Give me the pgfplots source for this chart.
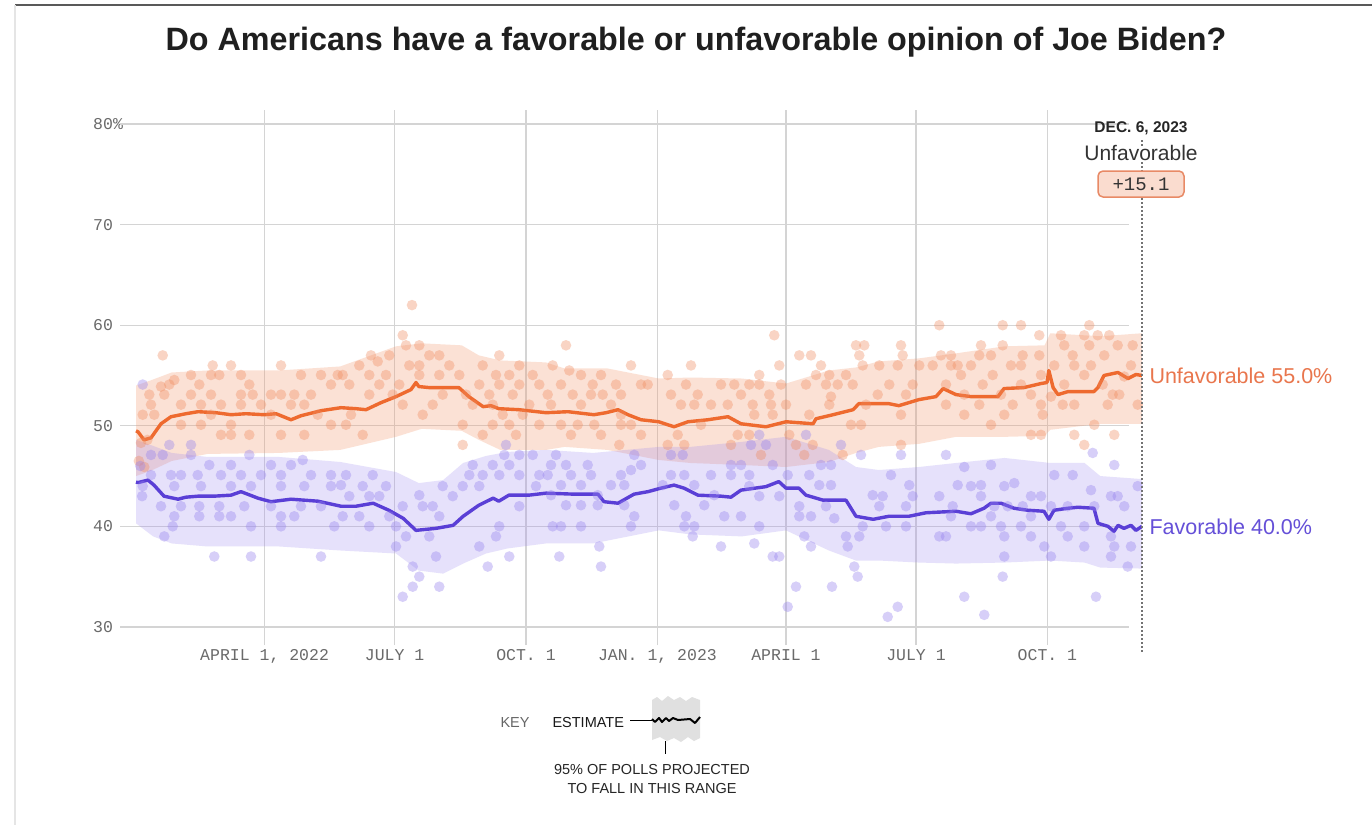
\documentclass[border=0pt]{standalone}
\usepackage{pgfplots}
\pgfplotsset{compat=1.18}
\usepackage{fontspec}
\setmainfont{Liberation Sans}
\newfontfamily\monofont{Liberation Mono}
\definecolor{unfav}{HTML}{EE6A2F}
\definecolor{fav}{HTML}{5A3FD6}
\definecolor{unfavtxt}{HTML}{E9764D}
\definecolor{favtxt}{HTML}{6550D8}
\definecolor{unfavband}{HTML}{F4966A}
\definecolor{favband}{HTML}{9D88F0}
\definecolor{unfavdot}{HTML}{F08A5D}
\definecolor{favdot}{HTML}{9683EE}
\definecolor{gridc}{HTML}{D4D4D4}
\definecolor{tickc}{HTML}{6A6A6A}
\definecolor{boxfill}{HTML}{FADCCF}
\definecolor{boxdraw}{HTML}{E88A66}

\begin{document}
\begin{tikzpicture}[x=1pt,y=1pt]
\useasboundingbox (0,0) rectangle (1372,-825);
\fill[white] (0,0) rectangle (1372,-825);
\draw[line width=1.2pt, black!65] (15,-5) -- (1372,-5);
\draw[line width=1.6pt, black!10] (15,-5) -- (15,-825);
\node[font=\bfseries\fontsize{32.3}{38}\selectfont, text=black!88] at (696,-42) {Do Americans have a favorable or unfavorable opinion of Joe Biden?};

\begin{axis}[
  at={(136pt,-645pt)}, anchor=south west, scale only axis,
  width=1006pt, height=535pt,
  xmin=0, xmax=704.2, ymin=28.2, ymax=81.4,
  clip=false,
  axis line style={draw=none},
  major tick length=0pt,
  xtick={90,181,273,365,455,546,638},
  xticklabels={{APRIL 1, 2022},{JULY 1},{OCT. 1},{JAN. 1, 2023},{APRIL 1},{JULY 1},{OCT. 1}},
  ytick={30,40,50,60,70,80},
  yticklabels={30,40,50,60,70,80\%},
  xmajorgrids, ymajorgrids=false,
  grid style={gridc, line width=1.2pt},
  xticklabel style={font=\monofont\fontsize{16.5}{18}\selectfont, text=tickc, anchor=north, inner sep=0pt, yshift=-4pt},
  yticklabel style={font=\monofont\fontsize{16.5}{18}\selectfont, text=tickc, anchor=west, inner sep=0pt, xshift=-43pt},
]
\pgfplotsinvokeforeach{30,40,50,60,70,80}{
  \draw[gridc, line width=1.2pt] (axis cs:-11,#1) -- (axis cs:695,#1);
}

% orange band (upper forward, lower backward)
\addplot[draw=none, fill=unfavband, fill opacity=0.28] table {
0 54.0
10 54.5
25 55.3
50 55.5
100 55.5
143 55.9
182 57.9
200 58.2
228 58.0
240 57.0
255 56.5
287 56.3
300 55.7
330 55.7
366 54.7
388 54.8
424 54.7
455 54.2
485 55.5
504 55.8
520 56.4
548 56.7
574 57.2
608 57.9
636 58.0
640 59.2
675 58.9
704.2 59.2
704.2 50.2
675 50.2
640 49.6
636 49.0
608 48.9
574 48.9
548 48.2
520 47.9
504 47.3
485 46.4
455 45.9
424 46.1
388 46.3
366 46.6
330 47.6
300 47.9
287 47.6
255 47.6
240 48.6
228 49.5
200 49.7
182 48.9
143 47.6
100 47.3
50 47.2
25 46.5
10 45.5
0 45.0
} -- cycle;

% purple band
\addplot[draw=none, fill=favband, fill opacity=0.25] table {
0 48.6
12 48.0
25 47.3
50 46.9
100 46.9
143 46.4
182 45.4
198 44.3
215 44.6
229 46.3
245 47.0
260 47.4
287 47.6
320 47.3
366 47.9
388 47.9
424 48.4
455 48.9
485 47.6
504 45.9
520 45.6
548 45.9
574 46.3
608 46.8
640 46.3
664 46.3
675 45.0
704.2 44.7
704.2 35.8
675 35.9
664 36.4
640 36.6
608 36.4
574 36.3
548 36.4
520 36.6
504 36.6
485 37.6
455 39.6
424 39.0
388 39.2
366 39.6
320 38.3
287 38.3
260 37.8
245 37.3
229 36.3
215 35.3
198 35.6
182 37.3
143 37.6
100 38.0
50 38.0
25 38.3
12 39.0
0 40.3
} -- cycle;

% orange poll dots
\addplot[only marks, color=unfavdot, mark=*, mark size=5.3pt, mark options={draw opacity=0, fill opacity=0.36}] table {
18.7 57.0
53.7 56.0
66.5 56.0
101.5 56.0
38.5 55.05
52.5 55.05
58.3 55.05
73.5 55.05
79.3 54.1
26.8 54.55
23.3 54.1
44.3 54.1
17.5 53.9
9.3 53.1
19.8 53.1
38.5 53.1
52.5 53.1
73.5 53.1
81.7 53.1
94.5 53.1
101.5 53.1
110.8 53.1
122.5 53.1
136.5 54.1
129.5 55.05
115.5 55.05
141.2 55.05
10.5 52.1
31.5 52.1
45.5 52.1
59.5 52.1
73.5 52.1
87.5 52.1
108.5 52.1
117.8 52.1
4.7 51.1
12.8 51.1
52.5 51.1
94.5 51.1
127.2 51.1
31.5 50.1
45.5 50.1
66.5 50.1
136.5 50.1
59.5 49.1
66.5 49.1
79.3 49.1
101.5 49.1
117.8 49.1
5.8 45.9
3.5 48.3
8 48.6
2 46.5
193.2 62.0
186.7 59.0
189.0 58.0
198.3 58.0
164.5 57.0
177.3 57.0
205.3 57.0
212.3 57.0
254.3 57.0
156.3 56.0
169.2 56.4
191.3 56.0
198.3 56.0
219.3 56.0
242.7 56.0
268.3 56.0
144.7 55.05
163.3 55.05
175.0 55.05
198.3 55.05
212.3 55.05
226.3 55.05
252.0 55.05
261.3 55.05
277.7 55.05
149.3 54.1
170.3 54.1
184.3 54.1
240.3 54.1
254.3 54.1
268.3 54.1
282.3 54.1
163.3 53.1
179.7 53.1
214.7 53.1
231.0 53.1
247.3 53.1
263.7 53.1
186.7 52.1
207.7 52.1
235.7 52.1
249.7 52.1
275.3 52.1
150.5 51.1
200.7 51.1
256.7 51.1
270.7 51.1
147.0 50.1
228.7 50.1
249.7 50.1
261.3 50.1
282.3 50.1
158.7 49.1
242.7 49.1
266.0 49.1
228.7 48.1
301.0 58.0
291.7 56.0
346.5 56.0
388.5 56.0
372.2 55.05
303.3 55.5
311.5 55.05
325.5 55.05
297.5 54.1
319.7 54.1
336.0 54.1
353.5 54.1
358.2 54.1
385.0 54.1
409.5 54.1
418.8 54.1
288.2 53.1
305.7 53.1
318.5 53.1
326.7 53.1
339.5 53.1
374.5 53.1
393.2 53.1
423.5 53.1
290.5 52.1
311.5 52.1
332.5 52.1
381.5 52.1
390.8 52.1
402.5 52.1
414.2 52.1
339.5 51.1
297.5 50.1
309.2 50.1
320.8 50.1
339.5 50.1
346.5 50.1
395.5 50.1
304.5 49.1
325.5 49.1
353.5 49.1
379.2 49.1
421.2 49.1
338.3 48.1
372.2 48.1
383.8 48.1
416.5 48.1
562.3 60.0
446.8 59.0
504.0 58.0
509.8 58.0
535.5 58.0
464.3 57.0
472.5 57.0
506.3 57.0
536.7 57.0
563.5 57.0
450.3 56.0
479.5 56.0
508.7 56.0
520.3 56.0
533.2 56.0
548.3 56.0
557.7 56.0
570.5 56.0
436.3 55.05
476.0 55.05
485.3 55.05
497.0 55.05
429.3 54.1
436.3 54.1
451.5 54.1
469.0 54.1
483.0 54.1
491.2 54.1
501.7 54.1
527.3 54.1
543.7 54.1
567.0 54.1
443.3 53.1
486.5 52.9
519.2 53.1
539.0 53.1
431.7 52.1
444.5 52.1
455.0 52.1
485.3 52.1
511.0 52.1
567.0 52.1
445.7 51.1
432.8 51.1
471.3 51.1
535.5 51.1
500.5 50.1
507.5 50.1
457.3 49.1
429.3 49.1
473.7 48.1
535.5 48.1
462.0 48.1
437.5 47.1
467.8 47.1
494.7 47.1
606.7 60.0
619.5 60.0
667.3 60.0
632.3 59.0
647.5 59.0
663.8 59.0
673.2 59.0
681.3 59.0
591.5 58.0
606.7 58.0
649.8 58.0
667.3 58.0
687.2 58.0
697.7 58.0
570.5 57.0
590.3 57.0
598.5 57.0
620.7 57.0
632.3 57.0
655.7 57.0
677.8 57.0
575.2 56.0
584.5 56.0
612.5 56.0
619.5 56.0
642.8 56.0
656.8 56.0
668.5 56.0
696.5 56.0
577.5 55.05
599.7 55.05
633.5 55.05
663.8 55.05
691.8 54.9
592.7 54.1
619.5 54.1
649.8 54.1
676.7 54.1
579.8 53.1
605.5 53.1
626.5 53.1
640.5 52.9
683.7 53.1
688.3 53.1
590.3 52.1
613.7 52.1
633.5 52.1
648.7 52.1
656.8 52.1
680.2 52.1
701.2 52.1
579.8 51.1
607.8 51.1
634.7 51.1
598.5 50.1
670.8 50.1
626.5 49.1
633.5 49.1
656.8 49.1
684.8 49.1
663.8 48.1
};

% purple poll dots
\addplot[only marks, color=favdot, mark=*, mark size=5.3pt, mark options={draw opacity=0, fill opacity=0.38}] table {
4.7 54.1
23.3 48.1
38.5 48.1
10.5 47.1
18.7 47.1
38.5 47.1
51.3 46.1
66.5 46.1
79.3 47.1
94.5 46.1
108.5 46.1
116.7 46.6
10.5 45.1
24.5 45.1
31.5 45.1
43.2 45.1
59.5 45.1
73.5 45.1
87.5 45.1
101.5 45.1
122.5 45.1
136.5 45.1
4.7 44.0
26.8 44.0
45.5 44.0
66.5 44.0
80.5 44.0
101.5 44.0
117.8 44.0
136.5 44.0
17.5 42.0
31.5 42.0
44.3 42.0
58.3 42.0
75.8 42.0
94.5 42.0
115.5 42.0
129.5 42.0
26.8 41.0
44.3 41.0
58.3 41.0
66.5 41.0
101.5 41.0
110.8 41.0
25.7 40.0
80.5 40.0
101.5 40.0
138.8 40.0
19.8 39.0
54.8 37.0
80.5 37.0
129.5 37.0
3 46.0
4.3 43.0
259.0 48.1
257.8 47.1
268.3 47.1
277.7 47.1
235.7 46.1
249.7 46.1
261.3 46.1
147.0 45.1
165.7 45.1
233.3 45.1
242.7 45.1
254.3 45.1
268.3 45.1
282.3 45.1
143.5 44.1
158.7 44.0
175.0 44.0
198.3 43.1
214.7 44.0
228.7 44.0
240.3 44.0
280.0 44.0
149.3 43.0
163.3 43.0
170.3 43.0
186.7 42.0
200.7 42.0
207.7 42.0
221.7 43.0
268.3 42.0
144.7 41.0
156.3 41.0
177.3 41.0
212.3 41.0
163.3 40.0
182.0 40.0
254.3 40.0
189.0 39.0
205.3 39.0
252.0 39.0
182.0 38.0
240.3 38.0
210.0 37.0
261.3 37.0
193.7 36.0
246.2 36.0
198.3 35.0
193.7 34.0
212.3 34.0
186.7 33.0
294.0 47.1
348.8 47.1
374.5 47.1
382.7 47.1
290.5 46.1
301.0 46.1
316.2 46.1
353.5 46.1
416.5 46.1
423.5 46.1
288.2 45.1
304.5 45.1
318.5 45.1
339.5 45.1
346.5 45.6
374.5 45.1
383.8 45.1
402.5 45.1
416.5 45.1
297.5 44.1
311.5 44.1
332.5 44.1
341.8 44.1
368.7 44.1
390.8 44.1
290.5 43.1
323.2 43.1
404.8 43.1
301.0 42.1
311.5 42.1
323.2 42.1
341.8 42.1
376.8 42.1
397.8 42.1
411.8 41.0
423.5 41.0
348.8 41.0
385.0 41.0
291.7 40.0
297.5 40.0
311.5 40.0
346.5 40.0
383.8 40.0
390.8 40.0
389.7 39.0
324.3 38.0
409.5 38.0
296.3 37.0
325.5 36.0
436.3 49.1
469.0 49.1
430.5 48.1
441.0 48.1
493.5 48.1
507.5 47.1
535.5 47.1
567.0 47.1
445.7 46.1
479.5 46.1
486.5 46.1
429.3 45.1
456.2 45.1
471.3 45.1
528.5 45.1
429.3 44.0
478.3 44.1
486.5 44.1
541.3 44.1
436.3 43.0
450.3 43.0
515.7 43.1
522.7 43.0
543.7 43.0
562.3 43.0
464.3 42.0
483.0 42.0
520.3 42.0
539.0 42.0
571.7 42.0
464.3 41.0
472.5 41.0
488.8 40.8
436.3 40.0
508.7 40.0
525.0 40.0
539.0 40.0
562.3 39.0
567.0 39.0
467.8 39.0
497.0 39.0
506.3 39.0
432.8 38.3
472.5 38.0
498.2 38.0
445.7 37.0
450.3 37.0
502.8 36.0
505.2 35.0
462.0 34.0
487.2 34.0
456.2 32.0
533.2 32.0
526.2 31.0
669.7 47.3
598.5 46.1
579.8 45.9
684.8 46.1
642.8 45.1
655.7 45.1
701.2 44.0
575.2 44.1
584.5 44.0
591.5 44.1
607.8 44.0
614.8 44.3
633.5 43.0
668.5 43.6
682.5 43.0
687.2 43.0
626.5 43.0
591.5 43.0
600.8 42.0
610.2 42.0
620.7 42.0
640.5 42.0
652.2 42.0
670.8 42.0
691.8 42.0
570.5 41.0
598.5 41.0
626.5 41.0
584.5 40.0
591.5 40.0
605.5 40.0
619.5 40.0
647.5 40.0
663.8 40.0
607.8 39.0
626.5 39.0
652.2 39.0
682.5 39.0
635.8 38.0
663.8 38.0
684.8 38.0
696.5 38.0
607.8 37.0
640.5 37.0
682.5 37.0
694.2 36.0
606.7 35.0
672.0 33.0
579.8 33.0
593.8 31.2
};

% unfavorable estimate
\addplot[unfav, line width=3.4pt, line join=round] table {
0 49.5
1.4 49.4
5.6 48.6
10.5 48.8
17.5 50.2
24.5 50.9
35 51.2
43.4 51.4
56 51.3
66.5 51.1
77 51.2
89.6 51.1
98 51.2
108.5 50.6
115.5 51.0
129.5 51.5
143.5 51.8
154 51.7
161 51.6
171.5 52.3
182 52.9
192.5 53.6
196 54.3
198 53.9
205 53.8
217 53.8
226 53.8
233 52.9
243 51.9
248.5 52.0
254 51.7
268 51.6
287 51.3
302.4 51.4
320.6 51.1
329 51.3
337.4 51.6
344.4 51.1
353.5 50.6
366 50.4
376.6 49.9
386.4 50.4
400.4 50.6
414.4 50.9
423.5 50.2
441 49.9
455 50.4
474 50.2
476 50.7
488 51.1
502 51.6
506 52.2
527 52.2
534 52.0
548 52.6
560 52.9
565 53.7
574 53.1
584.5 52.9
603.4 52.9
607.6 53.7
621.6 53.8
633.5 54.2
637.7 54.3
639 55.5
642 53.8
645.4 53.1
652.4 53.4
670.6 53.4
673.4 53.8
677.6 55.0
687.4 55.3
694.4 54.7
700 55.1
704.2 55.0
};

% favorable estimate
\addplot[fav, line width=3.4pt, line join=round] table {
0 44.4
1.4 44.35
8.4 44.6
12.6 44.1
19.6 43.0
29.4 42.7
35 42.9
43.4 43.0
54.6 43.0
66.5 43.1
73.5 43.45
85.4 42.8
94.5 42.45
108.5 42.7
127.4 42.5
143.5 42.0
154 42.0
166 42.3
177 41.6
187 40.8
196 39.6
210 39.8
222 40.1
229 41.0
240 42.1
250 42.8
254 42.5
261 43.1
275 43.1
287 43.3
306.6 43.2
323.4 43.2
327.6 42.45
337.4 42.3
348.6 43.2
358.4 43.45
367.5 43.8
376.6 44.1
383.6 43.8
393.4 43.1
409.5 43.0
416.5 42.9
423.5 43.6
441 43.95
450 44.45
455 43.8
464 43.8
469 43.1
481 42.6
497 42.6
504 41.0
516 40.7
527 41.0
541 41.0
553 41.35
574 41.5
584.5 41.25
593.6 41.8
598.5 42.3
605.5 42.3
614.6 41.8
624.4 41.6
635.6 41.5
639 40.7
642.6 41.6
652.4 41.8
659.4 41.9
670.6 41.8
673.4 40.3
680.4 40.0
684.6 39.5
687.4 40.1
691.6 39.8
696.5 40.1
700 39.6
704.2 40.0
};

\node[anchor=west, text=unfavtxt, font=\fontsize{21.5}{24}\selectfont] at (axis cs:704.2,55.0) {\hspace{4pt}Unfavorable 55.0\%};
\node[anchor=west, text=favtxt, font=\fontsize{21.5}{24}\selectfont] at (axis cs:704.2,40.0) {\hspace{4pt}Favorable 40.0\%};
\end{axis}

% date marker
\draw[black!55, line width=1.6pt, dash pattern=on 1.6pt off 2.4pt] (1142,-140) -- (1142,-146);
\draw[black!55, line width=1.6pt, dash pattern=on 1.6pt off 2.4pt] (1142,-162) -- (1142,-652);
\node[font=\bfseries\fontsize{15.5}{18}\selectfont, text=black!85] at (1141,-128) {DEC. 6, 2023};
\node[font=\fontsize{21}{24}\selectfont, text=black!80] at (1141,-153) {Unfavorable};
\node[draw=boxdraw, fill=boxfill, line width=1.5pt, rounded corners=5pt, minimum width=86pt, minimum height=26pt, inner sep=0pt, font=\monofont\fontsize{19}{22}\selectfont, text=black!80] at (1141,-184) {+15.1};

% key
\node[anchor=west, font=\fontsize{14.5}{17}\selectfont, text=black!60] at (497,-722) {KEY};
\node[anchor=west, font=\fontsize{14.5}{17}\selectfont, text=black!90] at (549,-722) {ESTIMATE};
\draw[black, line width=1pt] (630,-720) -- (652,-720);
\fill[black!12] (652,-700) -- (657,-697) -- (662,-701) -- (668,-696) -- (674,-700) -- (680,-697) -- (686,-701) -- (692,-697) -- (700,-700)
  -- (700,-738) -- (694,-741) -- (688,-737) -- (681,-742) -- (674,-738) -- (667,-741) -- (660,-737) -- (652,-740) -- cycle;
\draw[black, line width=2pt, line join=round] (652,-719) -- (655,-722) -- (659,-718) -- (662,-722) -- (666,-718) -- (669,-721) -- (673,-718) -- (678,-720) -- (690,-719) -- (695,-723) -- (700,-717);
\draw[black, line width=1pt] (665,-741) -- (665,-754);
\node[font=\fontsize{14.5}{17}\selectfont, text=black!85, align=center] at (652,-779) {95\% OF POLLS PROJECTED\\[2pt]TO FALL IN THIS RANGE};
\end{tikzpicture}
\end{document}
